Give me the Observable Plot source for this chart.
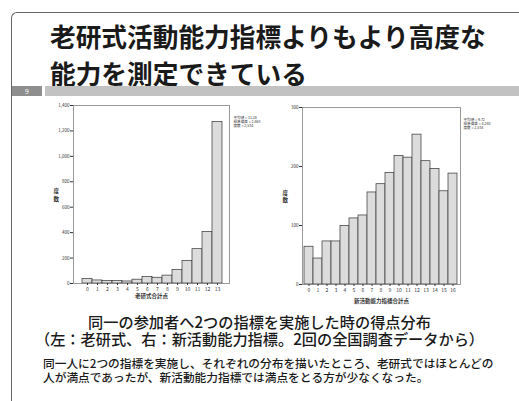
<!DOCTYPE html>
<html>
<head>
<meta charset="utf-8">
<script src="https://cdn.jsdelivr.net/npm/d3@7"></script>
<script src="https://cdn.jsdelivr.net/npm/@observablehq/plot@0.6"></script>
<style>
  html, body { margin:0; padding:0; background:#fff; }
  body { width:519px; height:401px; overflow:hidden; position:relative; font-family:"Noto Sans CJK JP","Noto Sans",sans-serif; color:#222; }
  .abs { position:absolute; white-space:nowrap; }
  #frame { left:11px; top:12px; width:540px; height:420px; border-left:1.5px solid #666; border-top:1.5px solid #666; border-top-left-radius:6px; }
  .title { left:50px; font-size:25.7px; font-weight:700; line-height:27px; color:#1a1a1a; }
  #t1 { top:22px; }
  #t2 { top:59px; }
  #band { left:45px; top:86px; width:480px; height:10px; background:#c2c2c2; }
  #pageno { left:12px; top:86px; width:30px; height:10px; background:#8e8e8e; color:#fff; font-size:7px; line-height:10px; text-align:center; }
  .cap { left:0; width:519px; text-align:center; font-size:15.2px; font-weight:500; line-height:15.5px; color:#1a1a1a; }
  #cap1 { top:314px; }
  #cap2 { top:331px; }
  .note { left:43px; font-size:11.7px; font-weight:500; line-height:12px; color:#1a1a1a; }
  #n1 { top:357px; }
  #n2 { top:371px; }
  #left { left:40px; top:95px; }
  #right { left:270px; top:95px; }
</style>
</head>
<body>
<div id="frame" class="abs"></div>
<div id="t1" class="abs title">老研式活動能力指標よりもより高度な</div>
<div id="t2" class="abs title">能力を測定できている</div>
<div id="band" class="abs"></div>
<div id="pageno" class="abs">9</div>
<div id="left" class="abs"></div>
<div id="right" class="abs"></div>
<div id="cap1" class="abs cap">同一の参加者へ2つの指標を実施した時の得点分布</div>
<div id="cap2" class="abs cap">（左：老研式、右：新活動能力指標。2回の全国調査データから）</div>
<div id="n1" class="abs note">同一人に2つの指標を実施し、それぞれの分布を描いたところ、老研式ではほとんどの</div>
<div id="n2" class="abs note">人が満点であったが、新活動能力指標では満点をとる方が少なくなった。</div>
<script>
// ---- data ----
const leftScores = [0,1,2,3,4,5,6,7,8,9,10,11,12,13];
const leftCounts = [35,24,19,19,16,30,50,45,62,105,178,270,405,1270];
const leftTicks = [0,200,400,600,800,1000,1200,1400];
const leftXTitle = "老研式合計点";
const leftStats = ["平均値 = 11.28", "標準偏差 = 2.863", "度数 = 2,534"];

const rightScores = [0,1,2,3,4,5,6,7,8,9,10,11,12,13,14,15,16];
const rightCounts = [64,44,73,73,99,112,117,156,170,189,218,215,254,209,196,158,188];
const rightTicks = [0,100,200,300];
const rightXTitle = "新活動能力指標合計点";
const rightStats = ["平均値 = 9.72", "標準偏差 = 4.240", "度数 = 2,534"];

const yLabel = "度数";

function histogram(scores, counts, ticks, xTitle, stats, m, insets, titleDy, statDx, statDy) {
  const table = scores.map((s, i) => ({score: s, count: counts[i]}));
  return Plot.plot({
    width: 230, height: 215,
    marginLeft: m[0], marginRight: m[1], marginTop: m[2], marginBottom: m[3],
    style: {fontFamily: "'Noto Sans CJK JP', sans-serif", background: "transparent", color: "#333", overflow: "visible"},
    x: {type: "band", domain: scores, padding: 0, insetLeft: insets[0], insetRight: insets[1], label: null},
    y: {domain: [ticks[0], ticks[ticks.length - 1]], label: null},
    marks: [
      Plot.barY(table, {x: "score", y: "count", fill: "#dcdcdc", stroke: "#333", strokeWidth: 0.7}),
      Plot.frame({stroke: "#808080", strokeWidth: 0.8}),
      Plot.axisY({ticks: ticks, tickFormat: d3.format(","), tickSize: 3, tickPadding: 1, fontSize: 4.5, label: null, stroke: "#333"}),
      Plot.axisX({tickSize: 2, tickPadding: 2, fontSize: 5, label: null, stroke: "#333"}),
      Plot.text([xTitle], {frameAnchor: "bottom", dy: titleDy, fontSize: 5.5, fontWeight: "bold", fill: "#333"}),
      Plot.text([yLabel.split("").join("\n")], {frameAnchor: "left", dx: -20, fontSize: 5.5, fontWeight: "bold", fill: "#333", lineHeight: 1.35}),
      Plot.text([stats.join("\n")], {frameAnchor: "top-right", dx: statDx, dy: statDy, textAnchor: "start", lineAnchor: "top", fontSize: 3.6, lineHeight: 1.2, fill: "#333"})
    ]
  });
}

document.getElementById("left").append(
  histogram(leftScores, leftCounts, leftTicks, leftXTitle, leftStats, [33, 41, 10, 27], [3, 2], 14, 4, 10)
);
document.getElementById("right").append(
  histogram(rightScores, rightCounts, rightTicks, rightXTitle, rightStats, [32, 40, 12, 26], [2, 3], 18, 3, 10)
);
</script>
</body>
</html>
